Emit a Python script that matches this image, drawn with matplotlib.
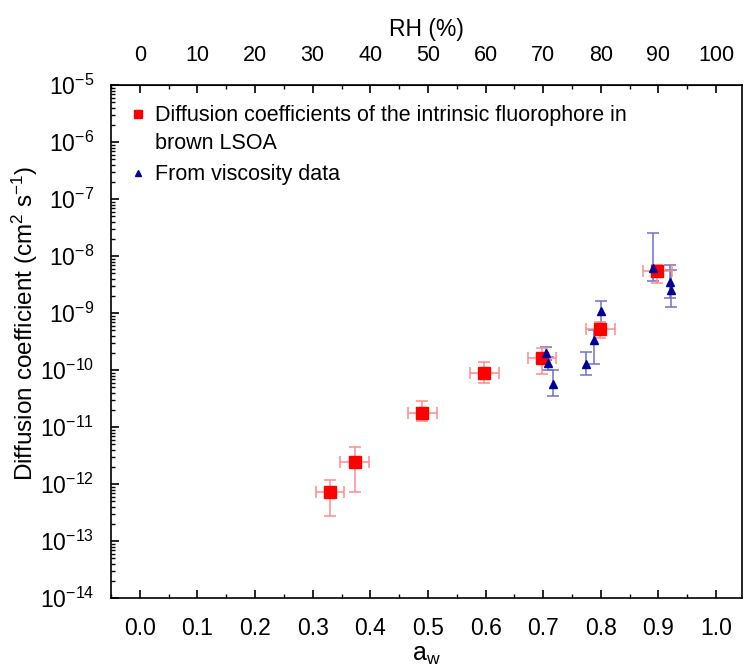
import numpy as np
import matplotlib
matplotlib.use("Agg")
import matplotlib.pyplot as plt
from matplotlib.ticker import MultipleLocator, LogLocator, NullFormatter, FixedLocator

plt.rcParams['font.family'] = ['Liberation Sans', 'DejaVu Sans']
plt.rcParams['mathtext.fontset'] = 'custom'
plt.rcParams['mathtext.rm'] = 'Liberation Sans'
plt.rcParams['mathtext.it'] = 'Liberation Sans:italic'

# fluorophore diffusion coefficients (red squares)
aw_fl = [0.33, 0.373, 0.49, 0.598, 0.698, 0.799, 0.898]
d_fl = [7.2e-13, 2.45e-12, 1.78e-11, 8.9e-11, 1.62e-10, 5.2e-10, 5.5e-9]
d_fl_lo = [2.8e-13, 7.2e-13, 1.3e-11, 5.9e-11, 8.5e-11, 3.6e-10, 3.4e-9]
d_fl_hi = [1.17e-12, 4.5e-12, 2.9e-11, 1.38e-10, 2.4e-10, 7.0e-10, 7.0e-9]
aw_fl_err = [0.025, 0.025, 0.025, 0.025, 0.025, 0.025, 0.025]

# from viscosity data (blue triangles)
aw_vis = [0.705, 0.709, 0.717, 0.775, 0.789, 0.80, 0.891, 0.92, 0.922]
d_vis = [2.0e-10, 1.32e-10, 5.6e-11, 1.3e-10, 3.4e-10, 1.1e-9, 6.2e-9, 3.5e-9, 2.5e-9]
d_vis_lo = [1.5e-10, 1.0e-10, 3.5e-11, 8.1e-11, 1.3e-10, 6.0e-10, 3.6e-9, 1.8e-9, 1.25e-9]
d_vis_hi = [2.5e-10, 1.7e-10, 1.0e-10, 2.1e-10, 5.0e-10, 1.6e-9, 2.5e-8, 7.0e-9, 5.6e-9]

rh_ticks = [0, 10, 20, 30, 40, 50, 60, 70, 80, 90, 100]

fig = plt.figure(figsize=(7.44, 6.71), dpi=100)
ax = fig.add_axes([0.1492, 0.1088, 0.8481, 0.7645])

yerr_fl = [np.array(d_fl) - np.array(d_fl_lo), np.array(d_fl_hi) - np.array(d_fl)]
yerr_vis = [np.array(d_vis) - np.array(d_vis_lo), np.array(d_vis_hi) - np.array(d_vis)]

ax.errorbar(aw_vis, d_vis, yerr=yerr_vis, fmt='none', ecolor='#7070d0',
            elinewidth=1.1, capsize=4, capthick=1.1, zorder=2)
ax.errorbar(aw_fl, d_fl, xerr=aw_fl_err, yerr=yerr_fl, fmt='none', ecolor='#ff8a8a',
            elinewidth=1.1, capsize=4, capthick=1.1, zorder=3)
ax.plot(aw_fl, d_fl, 's', color='#ff0000', markersize=8, linestyle='none', zorder=4,
        label='Diffusion coefficients of the intrinsic fluorophore in')
ax.plot(aw_vis, d_vis, '^', color='#000099', markersize=6, linestyle='none', zorder=5,
        label='From viscosity data')

ax.set_yscale('log')
ax.set_ylim(1e-14, 1e-5)
ax.set_xlim(-0.05, 1.045)
ticks = np.arange(0, 1.01, 0.1)
ax.set_xticks(ticks)
ax.set_xticklabels(['%.1f' % t for t in ticks])
ax.xaxis.set_minor_locator(MultipleLocator(0.05))
ax.yaxis.set_major_locator(LogLocator(base=10, numticks=20))
ax.yaxis.set_minor_locator(LogLocator(base=10, subs=np.arange(2, 10), numticks=20))
ax.yaxis.set_minor_formatter(NullFormatter())

ax.tick_params(which='both', direction='in', top=False, right=False, labelsize=16.5)
ax.tick_params(which='major', length=6, width=1.2)
ax.tick_params(which='minor', length=3, width=1.0)
ax.tick_params(axis='x', which='major', pad=14)
ax.tick_params(axis='y', which='major', pad=12)
for s in ax.spines.values():
    s.set_linewidth(1.2)

# RH (%) axis on top
top = ax.secondary_xaxis('top', functions=(lambda x: x * 100, lambda x: x / 100))
top.xaxis.set_major_locator(FixedLocator(rh_ticks))
top.xaxis.set_minor_locator(MultipleLocator(5))
top.tick_params(which='both', direction='in', labelsize=15.5)
top.tick_params(which='major', length=6, width=1.2, pad=14)
top.tick_params(which='minor', length=3, width=1.0)
top.set_xlabel('RH (%)', fontsize=16.5, labelpad=6)

ax.set_xlabel(r'a$_\mathrm{w}$', fontsize=18, labelpad=2)
ax.set_ylabel('Diffusion coefficient (cm$^2$ s$^{-1}$)', fontsize=17.5)
ax.yaxis.set_label_coords(-0.112, 0.535)

leg = ax.legend(loc='upper left', frameon=False, fontsize=15.5, handletextpad=0.5,
                markerscale=0.75, borderaxespad=0.55, labelspacing=1.75, handlelength=0.6)

# second line of the first legend entry, placed under its first line
fig.canvas.draw()
bb = leg.get_texts()[0].get_window_extent().transformed(ax.transAxes.inverted())
ax.text(bb.x0, bb.y0 - 0.012, 'brown LSOA', transform=ax.transAxes,
        fontsize=15.5, ha='left', va='top')

fig.savefig('out.png', dpi=100)
